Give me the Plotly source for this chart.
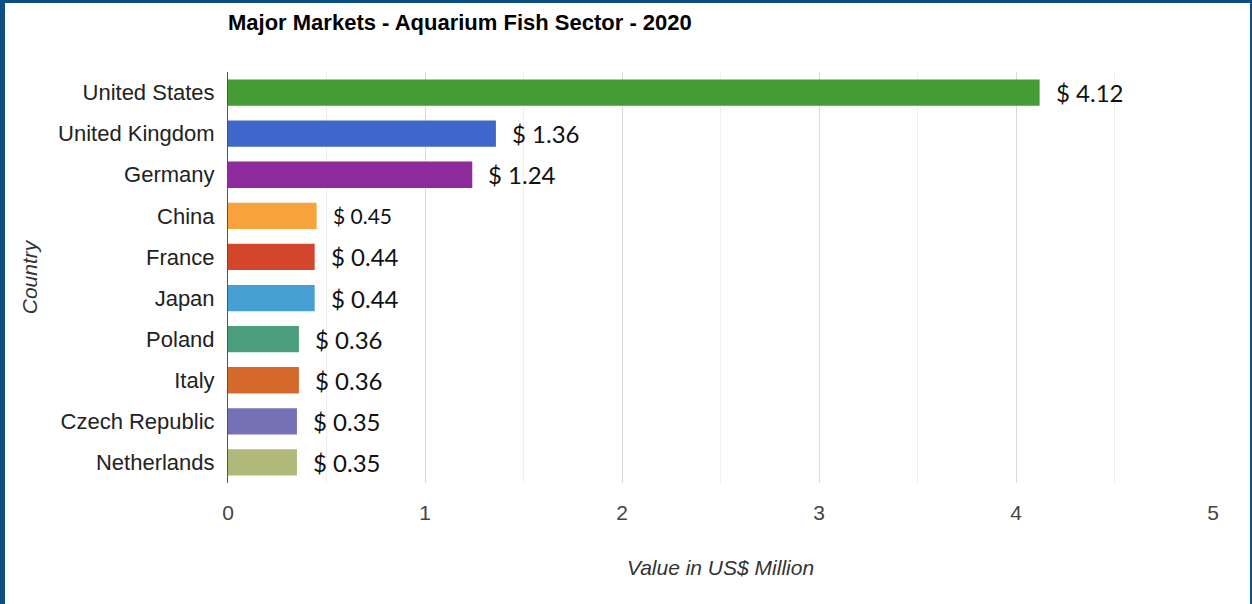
import plotly.graph_objects as go

# Market values (US$ million), 2020
countries = ["United States", "United Kingdom", "Germany", "China", "France",
             "Japan", "Poland", "Italy", "Czech Republic", "Netherlands"]
values = [4.12, 1.36, 1.24, 0.45, 0.44, 0.44, 0.36, 0.36, 0.35, 0.35]
bar_colors = ["#459C34", "#3E66CB", "#8E2B9B", "#F8A23B", "#D4462C",
              "#46A0D3", "#4A9E7D", "#D5682B", "#7571B7", "#B0B979"]
x_ticks = [0, 1, 2, 3, 4, 5]

W, H = 1252, 604
M_L, M_R, M_T, M_B = 228, 39, 72, 121
PW, PH = W - M_L - M_R, H - M_T - M_B

fig = go.Figure(go.Bar(
    y=countries, x=values, orientation="h",
    marker=dict(color=bar_colors, line=dict(width=0)),
    hoverinfo="x+y",
))

# value labels to the right of each bar
for c, v in zip(countries, values):
    fig.add_annotation(
        x=v, y=c, xref="x", yref="y", text=f"$ {v:.2f}",
        showarrow=False, xanchor="left", xshift=14,
        font=dict(family="Lato, Open Sans, sans-serif",
                  size=21 if c == "China" else 24, color="#111111"),
    )

def px_x(p):
    return (p - M_L) / PW

def px_y(p):
    return (H - M_B - p) / PH

# frame around the figure
border = "#0B4F84"
frame = [
    (0, 0, 5, H),          # left
    (0, 0, W, 3),          # top
    (W - 2, 0, W, H),      # right
]
for x0, y0, x1, y1 in frame:
    fig.add_shape(type="rect", xref="paper", yref="paper",
                  x0=px_x(x0), x1=px_x(x1), y0=px_y(y1), y1=px_y(y0),
                  fillcolor=border, line=dict(width=0), layer="above")

fig.update_layout(
    width=W, height=H,
    margin=dict(l=M_L, r=M_R, t=M_T, b=M_B, autoexpand=False),
    paper_bgcolor="white", plot_bgcolor="white",
    bargap=0.36,
    showlegend=False,
    title=dict(text="<b>Major Markets - Aquarium Fish Sector - 2020</b>",
               x=M_L / W, xanchor="left", xref="container",
               y=1 - 22 / H, yanchor="middle", yref="container",
               font=dict(family="Liberation Sans, Arial, sans-serif",
                         size=22, color="#000000")),
    xaxis=dict(
        range=[0, 5], tickvals=x_ticks, ticktext=[str(t) for t in x_ticks],
        showgrid=True, gridcolor="#D9D9D9", gridwidth=1,
        minor=dict(dtick=0.5, showgrid=True, gridcolor="#EFEFEF", gridwidth=1),
        zeroline=False, showline=False, ticks="",
        ticklabelstandoff=15,
        tickfont=dict(family="Liberation Sans, Arial, sans-serif",
                      size=21, color="#444444"),
        title=dict(text="<i>Value in US$ Million</i>", standoff=37,
                   font=dict(family="Liberation Sans, Arial, sans-serif",
                             size=21, color="#333333")),
        fixedrange=True,
    ),
    yaxis=dict(
        autorange="reversed", showgrid=False, zeroline=False,
        showline=True, linecolor="#555555", linewidth=1,
        ticks="", ticklabelstandoff=8,
        tickfont=dict(family="Liberation Sans, Arial, sans-serif",
                      size=22, color="#222222"),
        title=dict(text="<i>Country</i>", standoff=14,
                   font=dict(family="Liberation Sans, Arial, sans-serif",
                             size=21, color="#333333")),
        fixedrange=True,
    ),
)

fig.write_html("out.html", config=dict(displayModeBar=False))
